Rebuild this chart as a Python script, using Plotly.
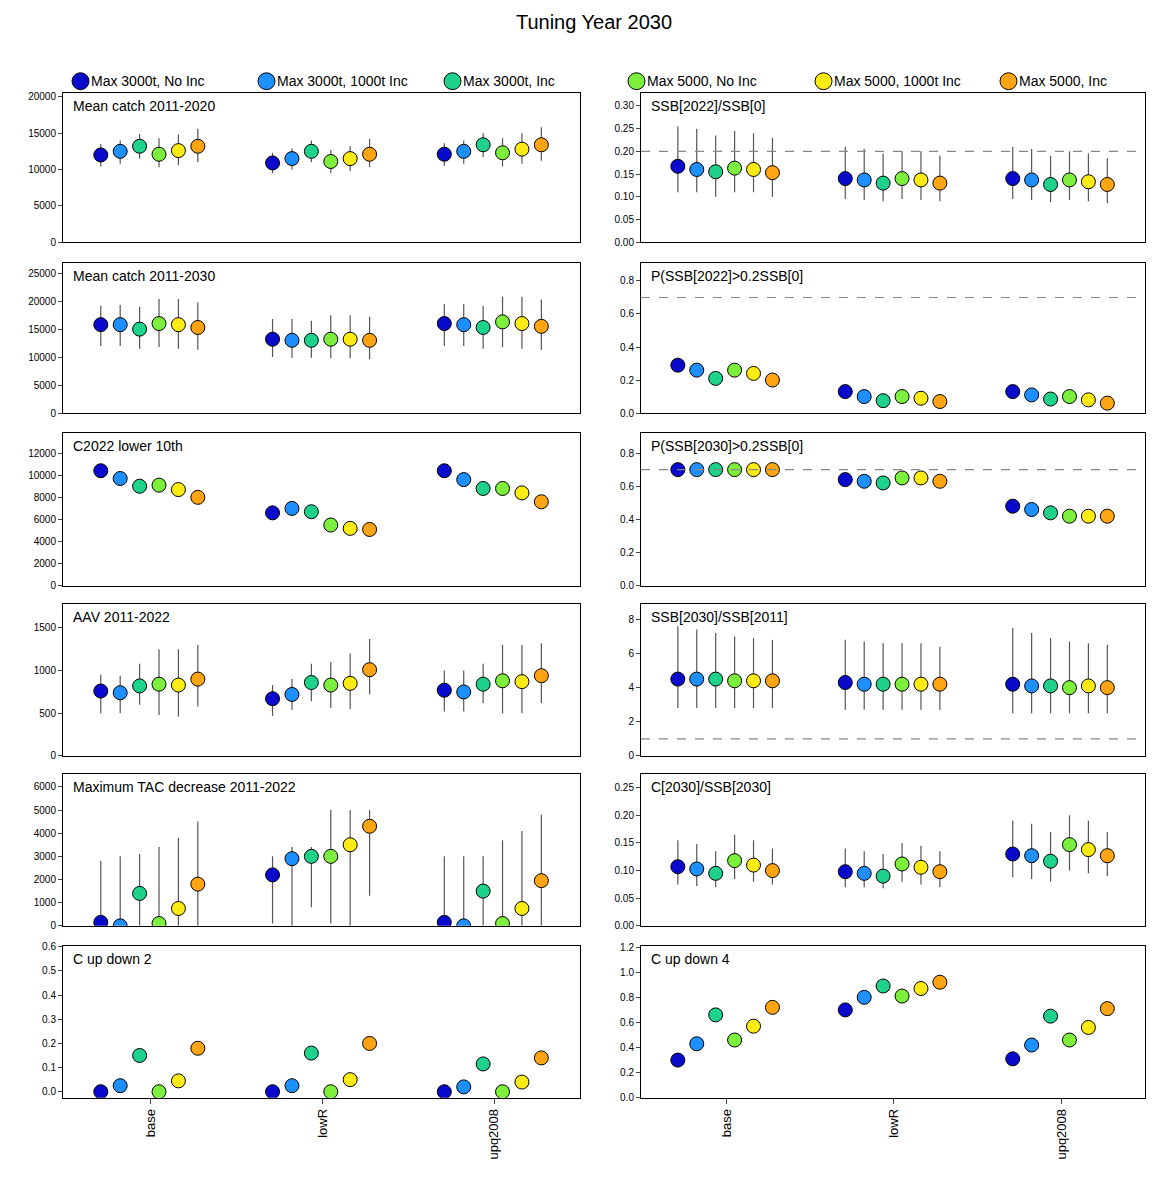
import plotly.graph_objects as go

W, H = 1154, 1182
FW, FH = W - 16, H - 16  # page body adds an 8px margin

scenarios = ["base", "lowR", "upq2008"]
mps = ["Max 3000t, No Inc", "Max 3000t, 1000t Inc", "Max 3000t, Inc",
       "Max 5000, No Inc", "Max 5000, 1000t Inc", "Max 5000, Inc"]
colors = ["#0A0ACD", "#1E8FFF", "#1ED28C", "#7CF03C", "#FFEB14", "#FFA514"]

# left column
catch20_med = [[12000, 12500, 13200, 12100, 12600, 13200], [10900, 11500, 12500, 11100, 11500, 12100], [12100, 12500, 13400, 12300, 12800, 13400]]
catch20_lo = [[10400, 10800, 11500, 10300, 10600, 11000], [9500, 10000, 11000, 9500, 9800, 10300], [10500, 10800, 11700, 10400, 10800, 11200]]
catch20_hi = [[13500, 14000, 14900, 14300, 14800, 15600], [12300, 12900, 14000, 12700, 13200, 14200], [13600, 14000, 15000, 14300, 15000, 15800]]

catch30_med = [[15800, 15800, 15000, 16000, 15800, 15300], [13200, 13000, 13000, 13200, 13200, 13000], [16000, 15800, 15300, 16300, 16000, 15500]]
catch30_lo = [[12000, 12000, 11500, 11800, 11500, 11300], [10000, 9900, 9900, 9800, 9800, 9600], [12000, 12000, 11500, 11800, 11500, 11300]]
catch30_hi = [[19200, 19300, 19000, 20400, 20400, 19800], [16800, 16800, 16500, 17500, 17500, 17200], [19500, 19500, 19200, 20800, 20800, 20300]]

c2022_med = [[10400, 9700, 9000, 9100, 8700, 8000], [6600, 7000, 6700, 5500, 5200, 5100], [10400, 9600, 8800, 8800, 8400, 7600]]

aav_med = [[760, 740, 820, 840, 830, 900], [670, 720, 860, 830, 850, 1010], [770, 750, 840, 880, 870, 940]]
aav_lo = [[500, 500, 600, 480, 460, 580], [470, 540, 640, 560, 550, 720], [520, 520, 620, 500, 500, 620]]
aav_hi = [[950, 940, 1080, 1250, 1250, 1300], [830, 900, 1080, 1100, 1200, 1370], [1000, 1000, 1080, 1300, 1300, 1320]]

tacdec_med = [[150, 0, 1400, 100, 750, 1800], [2200, 2900, 3000, 3000, 3500, 4300], [150, 0, 1500, 100, 750, 1950]]
tacdec_lo = [[0, 0, 0, 0, 0, 0], [100, 0, 800, 100, 0, 1300], [0, 0, 0, 0, 0, 0]]
tacdec_hi = [[2800, 3000, 3100, 3400, 3800, 4500], [3000, 3400, 3400, 5000, 5000, 5000], [3000, 3000, 3000, 3700, 4100, 4800]]

updown2_med = [[0, 0.025, 0.15, 0, 0.045, 0.18], [0, 0.025, 0.16, 0, 0.05, 0.2], [0, 0.02, 0.115, 0, 0.04, 0.14]]

# right column
ssb22_med = [[0.167, 0.16, 0.155, 0.163, 0.16, 0.153], [0.14, 0.137, 0.13, 0.14, 0.137, 0.13], [0.14, 0.137, 0.127, 0.137, 0.133, 0.127]]
ssb22_lo = [[0.11, 0.11, 0.10, 0.11, 0.11, 0.10], [0.095, 0.093, 0.09, 0.095, 0.093, 0.09], [0.095, 0.093, 0.088, 0.093, 0.09, 0.086]]
ssb22_hi = [[0.255, 0.25, 0.235, 0.245, 0.24, 0.23], [0.21, 0.205, 0.195, 0.2, 0.2, 0.19], [0.21, 0.205, 0.19, 0.2, 0.195, 0.185]]

p22_med = [[0.29, 0.26, 0.21, 0.26, 0.24, 0.20], [0.13, 0.10, 0.075, 0.10, 0.09, 0.07], [0.13, 0.11, 0.085, 0.10, 0.08, 0.06]]
p30_med = [[0.70, 0.70, 0.70, 0.70, 0.70, 0.70], [0.64, 0.63, 0.62, 0.65, 0.65, 0.63], [0.48, 0.46, 0.44, 0.42, 0.42, 0.42]]

ssbr_med = [[4.5, 4.5, 4.5, 4.4, 4.4, 4.4], [4.3, 4.2, 4.2, 4.2, 4.2, 4.2], [4.2, 4.1, 4.1, 4.0, 4.1, 4.0]]
ssbr_lo = [[2.8, 2.8, 2.8, 2.8, 2.8, 2.8], [2.7, 2.7, 2.7, 2.7, 2.7, 2.7], [2.5, 2.5, 2.5, 2.5, 2.5, 2.5]]
ssbr_hi = [[7.6, 7.4, 7.2, 7.0, 6.9, 6.8], [6.8, 6.7, 6.6, 6.6, 6.6, 6.4], [7.5, 7.2, 6.9, 6.7, 6.6, 6.5]]

cssb_med = [[0.107, 0.103, 0.095, 0.118, 0.11, 0.10], [0.098, 0.095, 0.09, 0.112, 0.106, 0.098], [0.13, 0.127, 0.117, 0.147, 0.138, 0.127]]
cssb_lo = [[0.075, 0.072, 0.07, 0.085, 0.08, 0.075], [0.07, 0.07, 0.068, 0.08, 0.075, 0.07], [0.088, 0.085, 0.08, 0.10, 0.095, 0.09]]
cssb_hi = [[0.155, 0.148, 0.135, 0.165, 0.155, 0.14], [0.14, 0.135, 0.13, 0.15, 0.145, 0.135], [0.19, 0.185, 0.17, 0.20, 0.19, 0.17]]

updown4_med = [[0.30, 0.43, 0.66, 0.46, 0.57, 0.72], [0.70, 0.80, 0.89, 0.81, 0.87, 0.92], [0.31, 0.42, 0.65, 0.46, 0.56, 0.71]]

# (title, med, lo, hi, yrange, dtick, refline)
panels = [
    [("Mean catch 2011-2020", catch20_med, catch20_lo, catch20_hi, [0, 20500], 5000, None),
     ("SSB[2022]/SSB[0]", ssb22_med, ssb22_lo, ssb22_hi, [0, 0.328], 0.05, 0.2)],
    [("Mean catch 2011-2030", catch30_med, catch30_lo, catch30_hi, [0, 26800], 5000, None),
     ("P(SSB[2022]>0.2SSB[0]", p22_med, None, None, [0, 0.908], 0.2, 0.7)],
    [("C2022 lower 10th", c2022_med, None, None, [0, 13800], 2000, None),
     ("P(SSB[2030]>0.2SSB[0]", p30_med, None, None, [0, 0.92], 0.2, 0.7)],
    [("AAV 2011-2022", aav_med, aav_lo, aav_hi, [0, 1780], 500, None),
     ("SSB[2030]/SSB[2011]", ssbr_med, ssbr_lo, ssbr_hi, [0, 8.9], 2, 1)],
    [("Maximum TAC decrease 2011-2022", tacdec_med, tacdec_lo, tacdec_hi, [0, 6560], 1000, None),
     ("C[2030]/SSB[2030]", cssb_med, cssb_lo, cssb_hi, [0, 0.275], 0.05, None)],
    [("C up down 2", updown2_med, None, None, [-0.025, 0.604], 0.1, None),
     ("C up down 4", updown4_med, None, None, [0, 1.21], 0.2, None)],
]

row_px = [(92, 241), (262, 412), (432, 585), (603, 755), (773, 925), (945, 1097)]
col_px = [(63, 580), (641, 1145)]
offsets = [-0.29 + 0.113 * j for j in range(6)]


def px(x):
    return min(1.0, max(0.0, (x - 8) / FW))


def py(y):
    y = 92 + (y - 95) / 0.991  # compensate the observed vertical squeeze of the page
    return min(1.0, max(0.0, 1 - (y - 8) / FH))


fig = go.Figure()
layout = {}
n = 0
for r, row in enumerate(panels):
    for c, (title, med, lo, hi, yr, dt, ref) in enumerate(row):
        n += 1
        xa = "x" if n == 1 else f"x{n}"
        ya = "y" if n == 1 else f"y{n}"
        if lo is not None:
            ex, ey = [], []
            for s in range(3):
                for j in range(6):
                    ex += [s + 1 + offsets[j]] * 2 + [None]
                    ey += [lo[s][j], hi[s][j], None]
            fig.add_trace(go.Scatter(x=ex, y=ey, mode="lines", line=dict(color="#555555", width=1.2),
                                     xaxis=xa, yaxis=ya, showlegend=False, hoverinfo="skip"))
        for j in range(6):
            fig.add_trace(go.Scatter(x=[s + 1 + offsets[j] for s in range(3)], y=[med[s][j] for s in range(3)],
                                     mode="markers", marker=dict(size=14, color=colors[j], line=dict(color="black", width=1)),
                                     xaxis=xa, yaxis=ya, showlegend=False, name=mps[j]))
        x0, x1 = col_px[c]
        y0, y1 = row_px[r]
        layout[xa.replace("x", "xaxis")] = dict(
            domain=[px(x0), px(x1)], range=[0.49, 3.5], anchor=ya,
            tickvals=[1, 2, 3] if r == 5 else [], ticktext=scenarios, tickangle=-90,
            ticks="outside" if r == 5 else "", showgrid=False, zeroline=False,
            showline=True, mirror=True, linecolor="black", linewidth=1)
        layout[ya.replace("y", "yaxis")] = dict(
            domain=[py(y1), py(y0)], range=yr, anchor=xa, dtick=dt, tick0=0,
            ticks="outside", ticklen=4, showgrid=False, zeroline=False,
            showline=True, mirror=True, linecolor="black", linewidth=1,
            tickformat=".2f" if dt == 0.05 else (".1f" if dt < 1 else "d"))
        fig.add_annotation(text=title, xref=f"{xa} domain", yref=f"{ya} domain", x=0.015, y=0.98,
                           xanchor="left", yanchor="top", showarrow=False, font=dict(size=14))
        if ref is not None:
            fig.add_shape(type="line", xref=f"{xa} domain", yref=ya, x0=0, x1=1, y0=ref, y1=ref,
                          line=dict(color="#888888", width=1.2, dash="dash"))

# legend drawn in paper coordinates
leg_x = [72, 258, 444, 628, 815, 1000]
for j in range(6):
    cx = px(leg_x[j])
    cy = py(80)
    fig.add_shape(type="circle", xref="paper", yref="paper",
                  x0=cx, x1=cx + 17 / FW, y0=cy - 8.5 / FH, y1=cy + 8.5 / FH,
                  fillcolor=colors[j], line=dict(color="black", width=1))
    fig.add_annotation(text=mps[j], xref="paper", yref="paper", x=cx + 17 / FW, y=cy,
                       xanchor="left", yanchor="middle", showarrow=False, font=dict(size=14))

fig.update_layout(**layout)
fig.update_layout(
    width=FW, height=FH, margin=dict(l=0, r=0, t=0, b=0),
    plot_bgcolor="white", paper_bgcolor="white",
    font=dict(family="Liberation Sans, Arial", size=10, color="black"),
    title=dict(text="Tuning Year 2030", x=px(594), y=py(26), xanchor="center", yanchor="middle",
               font=dict(size=20)),
)
fig.update_xaxes(tickfont=dict(size=13))

fig.write_html("out.html")
